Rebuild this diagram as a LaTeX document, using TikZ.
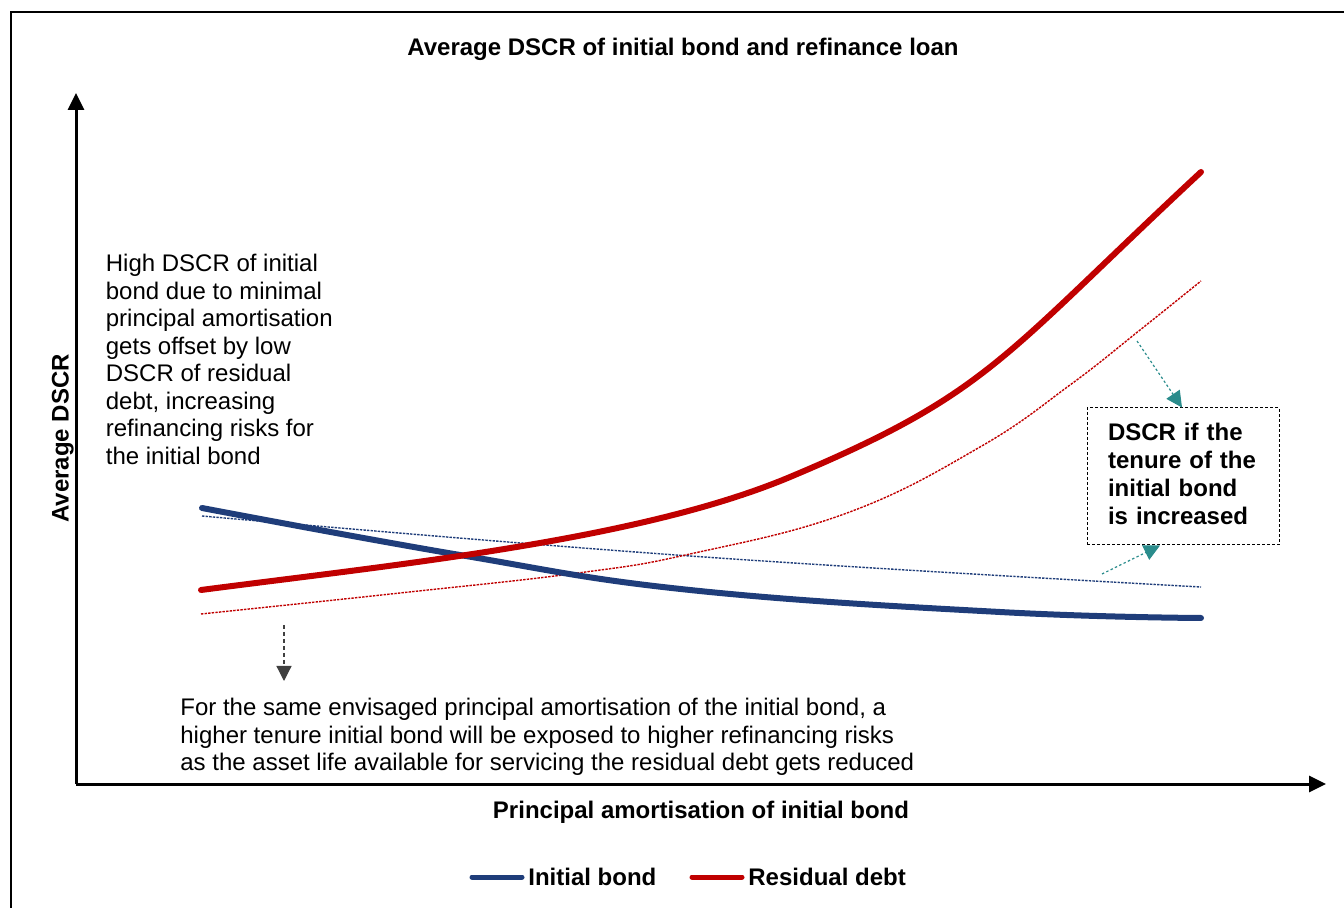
\documentclass[tikz,border=0pt]{standalone}
\usepackage{fontspec}
\setmainfont{Liberation Sans}
\usetikzlibrary{arrows.meta}
\definecolor{bondblue}{RGB}{31,61,122}
\definecolor{debtred}{RGB}{192,0,0}
\definecolor{tealc}{RGB}{42,140,140}
\definecolor{greyc}{RGB}{64,64,64}
\tikzset{
  txt/.style={inner sep=0pt, align=left, font=\fontsize{12}{13.75}\selectfont},
  btxt/.style={inner sep=0pt, font=\fontsize{12}{14}\selectfont\bfseries},
  thickcurve/.style={line width=3pt, line cap=round, line join=round},
  thincurve/.style={line width=0.7pt, dash pattern=on 1.2pt off 0.6pt},
  axis/.style={line width=1.5pt, -{Triangle[length=8.5pt,width=8pt]}},
  tealarrow/.style={tealc, line width=0.6pt, dash pattern=on 1.2pt off 1.2pt, -{Triangle[length=8pt,width=8pt]}},
  greyarrow/.style={greyc, line width=0.6pt, dash pattern=on 2pt off 1.5pt, -{Triangle[length=7.5pt,width=7.5pt]}},
  notebox/.style={draw, line width=0.5pt, dash pattern=on 1.5pt off 1pt, inner xsep=10.5pt, text width=75pt, minimum height=68.5pt, align=left, font=\fontsize{12}{14}\selectfont\bfseries},
  legline/.style={line width=2.5pt, line cap=round}
}
\begin{document}
\begin{tikzpicture}[x=0.5pt, y=-0.5pt]
\useasboundingbox (0,0) rectangle (1344,908);
% frame (left and top edges visible)
\draw[line width=1pt] (11,908) -- (11,12) -- (1344,12);
% title
\node[btxt, anchor=base] (title) at (683,55.6) {Average DSCR of initial bond and refinance loan};
% axes
\coordinate (origin) at (76,784);
\coordinate (ytip) at (76,93);
\coordinate (xtip) at (1326,784);
\draw[axis] (origin) -- (ytip);
\draw[axis] (origin) -- (xtip);
\node[btxt, anchor=base] (xlab) at (701,818.6) {Principal amortisation of initial bond};
\node[btxt, anchor=base, rotate=90] (ylab) at (68.6,438.5) {Average DSCR};
% thin (increased tenure) curves
\draw[thincurve, bondblue] plot[smooth, tension=0.7] coordinates {(202,516) (690,556) (1201,587)};
\draw[thincurve, debtred] plot[smooth, tension=0.7] coordinates {(201,614) (400,593) (578,573) (690,554) (847,513) (980,447) (1070,385) (1140,330) (1201,281)};
% thick curves
\draw[thickcurve, bondblue] plot[smooth, tension=0.7] coordinates {(202,508) (460,555) (690,590) (1000,612) (1201,618)};
\draw[thickcurve, debtred] (201,590) .. controls (401,564) and (640,540) .. (790,477)
  .. controls (990,393) and (1001,358) .. (1201,172);
% left note
\node[txt, anchor=north west] (leftnote) at (105.5,254) {High DSCR of initial\\bond due to minimal\\principal amortisation\\gets offset by low\\DSCR of residual\\debt, increasing\\refinancing risks for\\the initial bond};
% bottom note
\node[txt, anchor=north west] (bottomnote) at (180,698) {For the same envisaged principal amortisation of the initial bond, a\\higher tenure initial bond will be exposed to higher refinancing risks\\as the asset life available for servicing the residual debt gets reduced};
\coordinate (gstart) at (284,625);
\draw[greyarrow] (gstart) -- (284,681);
% box
\node[notebox] (box) at (1183,476.5) {DSCR if the\\tenure of the\\initial bond\\is increased\vspace{2.5pt}};
\coordinate (t1) at (1137,341);
\coordinate (t2) at (1102,574);
\draw[tealarrow] (t1) -- ([xshift=-0.5pt]box.north);
\draw[tealarrow] (t2) -- ([xshift=-11.5pt]box.south);
% legend
\node[btxt, anchor=base west] (leg1) at (528,885.6) {Initial bond};
\node[btxt, anchor=base west] (leg2) at (748,885.6) {Residual debt};
\draw[legline, bondblue] (472,877) -- (522,877);
\draw[legline, debtred] (692,877) -- (742,877);
\end{tikzpicture}
\end{document}
